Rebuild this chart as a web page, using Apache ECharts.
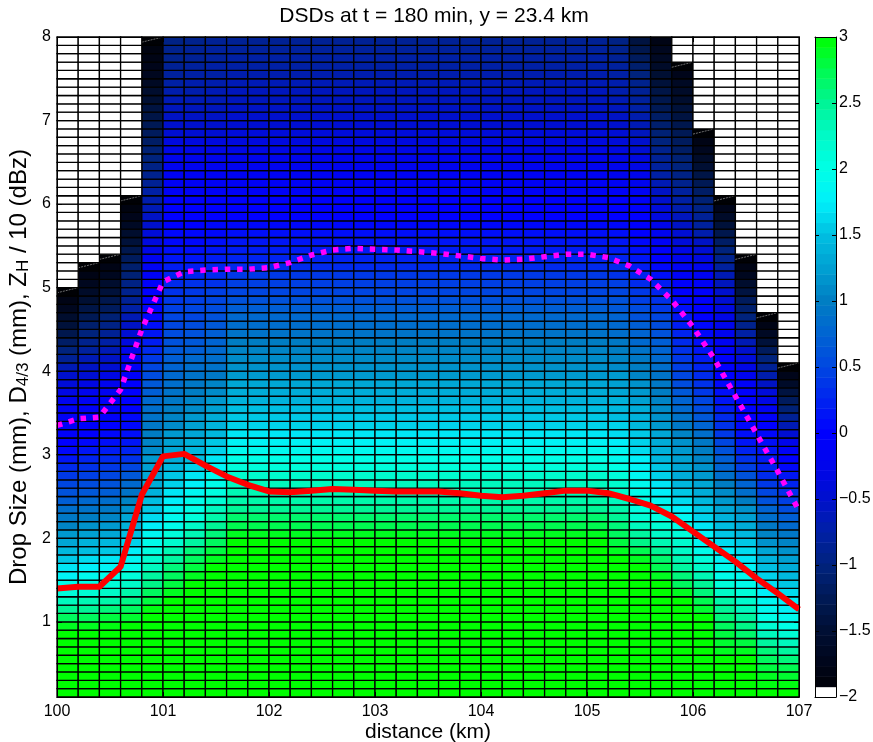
<!DOCTYPE html>
<html>
<head>
<meta charset="utf-8">
<script src="https://cdn.jsdelivr.net/npm/echarts@6/dist/echarts.min.js"></script>
<style>
html, body { margin: 0; padding: 0; background: #fff; }
#chart { width: 873px; height: 742px; }
</style>
</head>
<body>
<div id="chart"></div>
<script>
const FONT = '"Liberation Sans", Arial, Helvetica, sans-serif';

// Left edge of every 0.2 km distance column (km)
const columnStarts = [100.0, 100.2, 100.4, 100.6, 100.8, 101.0, 101.2, 101.4, 101.6, 101.8,
  102.0, 102.2, 102.4, 102.6, 102.8, 103.0, 103.2, 103.4, 103.6, 103.8,
  104.0, 104.2, 104.4, 104.6, 104.8, 105.0, 105.2, 105.4, 105.6, 105.8,
  106.0, 106.2, 106.4, 106.6, 106.8];

// Drop size bins: 0.1 mm wide, lowest bin starts at 0.1 mm, plot top at 8 mm
const binWidthKm = 0.2;
const binHeightMm = 0.1;
const firstBinMm = 0.1;
const topMm = 8.0;

// Log number concentration per drop-size bin, listed from the smallest bin upward.
// A column ends at its largest observed drop size; bins above it are empty.
const dsd100_0 = [3,3,3,3,3,3,3,3, 2.9,2.7,2.5,2.3,2.1,1.95,1.8,1.7,1.55,1.45, 1.3,1.2,1.05,0.95,0.85,0.7,0.6,0.5,0.4,0.3, 0.15,0.05,0,-0.05,-0.1,-0.1,-0.15,-0.2,-0.3,-0.4, -0.5,-0.65,-0.85,-1.0,-1.15,-1.3,-1.45,-1.55,-1.7,-1.8,-1.95];
const dsd100_2 = [3,3,3,3,3,3,3,3, 2.9,2.7,2.5,2.35,2.15,2.0,1.9,1.75,1.65,1.5, 1.4,1.25,1.15,1.0,0.9,0.8,0.65,0.55,0.45,0.35, 0.25,0.15,0.05,0,-0.05,-0.1,-0.1,-0.15,-0.2,-0.3, -0.45,-0.55,-0.65,-0.8,-0.9,-1.0,-1.1,-1.25,-1.35,-1.5, -1.6,-1.7,-1.8,-1.95];
const dsd100_4 = [3,3,3,3,3,3,3,3, 2.95,2.8,2.6,2.4,2.25,2.1,1.95,1.8,1.7,1.55, 1.45,1.3,1.2,1.05,0.95,0.85,0.7,0.6,0.5,0.4, 0.3,0.2,0.1,0.05,0,-0.05,-0.1,-0.1,-0.15,-0.2, -0.3,-0.45,-0.55,-0.65,-0.75,-0.85,-0.95,-1.05,-1.2,-1.3, -1.45,-1.55,-1.7,-1.8,-1.95];
const dsd100_6 = [3,3,3,3,3,3,3,3,3, 2.85,2.7,2.55,2.4,2.25,2.1,1.95,1.85,1.75,1.6, 1.5,1.4,1.3,1.15,1.05,0.9,0.8,0.65,0.5,0.35, 0.25,0.15,0.1,0.05,0.05,0,0,0,0,-0.05, -0.1,-0.2,-0.25,-0.35,-0.45,-0.55,-0.65,-0.75,-0.85,-0.9, -0.95,-1.05,-1.1,-1.2,-1.3,-1.45,-1.55,-1.65,-1.75,-1.85, -1.95];
const dsd100_8 = [3,3,3,3,3,3,3,3,3,3, 2.95,2.8,2.7,2.55,2.45,2.3,2.2,2.05,1.95,1.85, 1.75,1.65,1.55,1.5,1.4,1.35,1.3,1.25,1.2,1.1, 1.05,1.0,0.95,0.9,0.85,0.8,0.7,0.65,0.55,0.5, 0.4,0.3,0.2,0.15,0.1,0.05,0.05,0,0,-0.05, -0.1,-0.15,-0.2,-0.3,-0.35,-0.4,-0.5,-0.55,-0.65,-0.7, -0.75,-0.85,-0.9,-0.95,-1.0,-1.05,-1.15,-1.2,-1.25,-1.35, -1.4,-1.5,-1.55,-1.65,-1.7,-1.75,-1.8,-1.85,-1.95];
const dsd101_0 = [3,3,3,3,3,3,3,3,3,3,3,3, 2.9,2.8,2.7,2.6,2.45,2.35,2.2,2.1,1.95,1.9, 1.85,1.75,1.7,1.6,1.55,1.45,1.35,1.3,1.25,1.2, 1.1,1.05,1.0,0.95,0.9,0.85,0.8,0.75,0.7,0.65, 0.6,0.55,0.5,0.5,0.45,0.4,0.35,0.3,0.25,0.2, 0.15,0.1,0.05,0.05,0,0,0,-0.05,-0.1,-0.1, -0.15,-0.2,-0.25,-0.3,-0.35,-0.45,-0.5,-0.55,-0.6,-0.65, -0.7,-0.75,-0.8,-0.85,-0.9,-0.9,-0.95];
const dsd101_2 = [3,3,3,3,3,3,3,3,3,3,3,3,3,3, 2.9,2.8,2.7,2.6,2.45,2.35,2.25,2.1,2.0,1.95, 1.85,1.75,1.7,1.6,1.5,1.45,1.4,1.3,1.25,1.2, 1.1,1.05,1.0,0.95,0.9,0.85,0.8,0.7,0.65,0.6, 0.55,0.5,0.5,0.45,0.4,0.35,0.25,0.2,0.15,0.1, 0.05,0.05,0,0,0, -0.05,-0.1,-0.1,-0.15,-0.2,-0.25,-0.3,-0.35,-0.45,-0.5, -0.55,-0.6,-0.65,-0.7,-0.7,-0.75,-0.8,-0.85,-0.85,-0.9];
const dsd101_4 = [3,3,3,3,3,3,3,3,3,3,3,3,3,3,3,3, 2.9,2.8,2.7,2.6,2.5,2.4,2.3,2.15,2.05,1.95, 1.9,1.8,1.7,1.6,1.55,1.45,1.4,1.35,1.25,1.2, 1.1,1.05,0.95,0.9,0.85,0.8,0.75,0.7,0.65,0.6, 0.55,0.5,0.45,0.35,0.3,0.25,0.2,0.15,0.1,0.05, 0.05,0,0, -0.05,-0.1,-0.1,-0.15,-0.2,-0.25,-0.3,-0.35,-0.45,-0.5, -0.55,-0.6,-0.65,-0.65,-0.7,-0.75,-0.75,-0.8,-0.8,-0.85];
const dsdCore = [3,3,3,3,3,3,3,3,3,3,3,3,3,3,3,3,3,3,3, 2.9,2.75,2.65,2.5,2.4,2.35,2.3,2.2,2.1,2.0, 1.9,1.8,1.7,1.6,1.55,1.5,1.4,1.35,1.3,1.2, 1.15,1.1,1.05,1.0,0.9,0.85,0.8,0.7,0.6,0.5, 0.45,0.4,0.3,0.25,0.2,0.15,0.1,0.05,0,0, -0.05,-0.1,-0.1,-0.15,-0.2,-0.25,-0.3,-0.35,-0.4,-0.45, -0.5,-0.55,-0.6,-0.6,-0.65,-0.7,-0.75,-0.75,-0.8,-0.85];
const dsd105_2 = [3,3,3,3,3,3,3,3,3,3,3,3,3,3,3,3,3, 2.9,2.8,2.7,2.6,2.5,2.4,2.3,2.25,2.2,2.1, 2.0,1.9,1.85,1.75,1.65,1.6,1.5,1.45,1.4,1.3, 1.25,1.2,1.1,1.05,1.0,0.95,0.85,0.8,0.75,0.65, 0.6,0.5,0.45,0.35,0.3,0.25,0.2,0.15,0.1,0.05, 0,0, -0.05,-0.1,-0.15,-0.2,-0.25,-0.3,-0.35,-0.4,-0.45,-0.5, -0.55,-0.6,-0.65,-0.7,-0.7,-0.75,-0.8,-0.85,-0.9,-0.95];
const dsd105_4 = [3,3,3,3,3,3,3,3,3,3,3,3,3,3,3,3, 2.9,2.75,2.55,2.45,2.3,2.15,2.05,2.0,1.95,1.9, 1.85,1.8,1.75,1.65,1.6,1.55,1.45,1.4,1.35,1.25, 1.2,1.15,1.05,1.0,0.95,0.9,0.8,0.75,0.7,0.6, 0.55,0.45,0.4,0.3,0.25,0.2,0.15,0.1,0.05,0, 0,0,-0.05,-0.1,-0.15,-0.2,-0.25,-0.3,-0.35,-0.45, -0.5,-0.6,-0.65,-0.7,-0.75,-0.8,-0.85,-0.9,-1.0,-1.1, -1.2,-1.3,-1.4];
const dsd105_6 = [3,3,3,3,3,3,3,3,3,3,3,3,3,3, 2.9,2.75,2.65,2.5,2.35,2.25,2.15,2.05,1.95,1.85, 1.75,1.7,1.6,1.55,1.45,1.4,1.35,1.3,1.2,1.15, 1.1,1.05,1.0,0.95,0.9,0.85,0.8,0.75,0.7,0.6, 0.55,0.5,0.4,0.35,0.25,0.2,0.1,0.05,0,-0.05, -0.1,-0.2,-0.25,-0.35,-0.4,-0.5,-0.55,-0.65,-0.75,-0.8, -0.85,-0.9,-1.0,-1.05,-1.1,-1.15,-1.25,-1.3,-1.35,-1.45, -1.5,-1.6,-1.65,-1.7,-1.8];
const dsd105_8 = [3,3,3,3,3,3,3,3,3,3,3,3, 2.9,2.7,2.6,2.45,2.35,2.25,2.2,2.1,1.95,1.85, 1.75,1.65,1.55,1.45,1.35,1.3,1.25,1.2,1.15,1.05, 0.95,0.9,0.8,0.75,0.65,0.55,0.5,0.45,0.4,0.35, 0.3,0.25,0.2,0.15,0.1,0.05,0,-0.05,-0.1,-0.15, -0.25,-0.3,-0.4,-0.45,-0.55,-0.6,-0.7,-0.75,-0.8,-0.9, -0.95,-1.0,-1.05,-1.15,-1.2,-1.25,-1.3,-1.4,-1.45,-1.55, -1.6,-1.65,-1.75,-1.95];
const dsd106_0 = [3,3,3,3,3,3,3,3,3,3, 2.85,2.75,2.6,2.5,2.35,2.25,2.1,1.95,1.85,1.8, 1.7,1.6,1.55,1.45,1.35,1.3,1.2,1.15,1.05,1.0, 0.95,0.85,0.75,0.65,0.55,0.5,0.4,0.35,0.3,0.25, 0.2,0.15,0.1,0.05,0.05,0,0,-0.05,-0.05,-0.1, -0.15,-0.25,-0.35,-0.45,-0.55,-0.7,-0.8,-0.85,-0.95,-1.05, -1.15,-1.25,-1.35,-1.5,-1.6,-1.7,-1.8,-1.95];
const dsd106_2 = [3,3,3,3,3, 2.9,2.85,2.8,2.7,2.6,2.5,2.4,2.25,2.1,1.95, 1.9,1.8,1.75,1.65,1.55,1.5,1.4,1.3,1.2,1.1, 1.0,0.85,0.75,0.7,0.6,0.5,0.4,0.35,0.3,0.2, 0.15,0.1,0.05,0,0,-0.05,-0.1,-0.15,-0.2,-0.25, -0.3,-0.35,-0.45,-0.5,-0.6,-0.65,-0.8,-0.9,-1.0,-1.15, -1.3,-1.45,-1.6,-1.75,-1.95];
const dsd106_4 = [3,3,3,3,3,2.9,2.8,2.65,2.55,2.45, 2.3,2.2,2.1,1.95,1.9,1.8,1.7,1.65,1.55,1.45, 1.35,1.25,1.15,1.0,0.85,0.75,0.6,0.45,0.35,0.25, 0.15,0.1,0.05,0,0,0,-0.05,-0.1,-0.2,-0.3, -0.4,-0.5,-0.65,-0.75,-0.9,-1.0,-1.1,-1.2,-1.4,-1.55, -1.7,-1.8,-1.95];
const dsd106_6 = [3,2.95,2.9,2.8,2.7,2.6,2.45,2.3,2.15,2.0, 1.9,1.85,1.75,1.65,1.6,1.5,1.4,1.3,1.15,1.05, 0.95,0.85,0.75,0.6,0.5,0.4,0.3,0.25,0.2,0.15, 0.1,0.05,0,-0.05,-0.15,-0.3,-0.4,-0.55,-0.7,-0.85, -1.0,-1.2,-1.45,-1.65,-1.8,-1.95];
const dsd106_8 = [3,2.95,2.85,2.75,2.6,2.45,2.3,2.15,2.0,1.9, 1.8,1.75,1.65,1.55,1.45,1.35,1.25,1.15,1.05,0.95, 0.8,0.7,0.55,0.45,0.35,0.25,0.15,0.05,0,-0.1, -0.25,-0.45,-0.65,-0.85,-1.05,-1.2,-1.4,-1.6,-1.75,-1.95];

// One profile per column, in columnStarts order
const columnProfiles = [dsd100_0, dsd100_2, dsd100_4, dsd100_6, dsd100_8, dsd101_0, dsd101_2, dsd101_4,
  dsdCore, dsdCore, dsdCore, dsdCore, dsdCore, dsdCore, dsdCore, dsdCore, dsdCore,
  dsdCore, dsdCore, dsdCore, dsdCore, dsdCore, dsdCore, dsdCore, dsdCore, dsdCore,
  dsd105_2, dsd105_4, dsd105_6, dsd105_8, dsd106_0, dsd106_2, dsd106_4, dsd106_6, dsd106_8];

// Line profiles along distance
const lineDistance = [100.0, 100.2, 100.4, 100.6, 100.8, 101.0, 101.2, 101.4, 101.6, 101.8,
  102.0, 102.2, 102.4, 102.6, 102.8, 103.0, 103.2, 103.4, 103.6, 103.8,
  104.0, 104.2, 104.4, 104.6, 104.8, 105.0, 105.2, 105.4, 105.6, 105.8,
  106.0, 106.2, 106.4, 106.6, 106.8, 107.0];
const d43 = [1.40, 1.42, 1.42, 1.66, 2.52, 2.98, 3.01, 2.87, 2.74, 2.64,
  2.56, 2.55, 2.57, 2.59, 2.58, 2.57, 2.56, 2.56, 2.56, 2.54,
  2.51, 2.49, 2.51, 2.54, 2.57, 2.57, 2.54, 2.47, 2.39, 2.26,
  2.08, 1.90, 1.72, 1.52, 1.34, 1.15];
const zhOver10 = [3.35, 3.43, 3.45, 3.78, 4.50, 5.07, 5.19, 5.21, 5.22, 5.22,
  5.24, 5.30, 5.39, 5.45, 5.47, 5.46, 5.45, 5.43, 5.41, 5.38,
  5.35, 5.33, 5.34, 5.37, 5.40, 5.40, 5.36, 5.26, 5.10, 4.85,
  4.53, 4.15, 3.70, 3.25, 2.80, 2.33];

// Axis ticks
const xTicks = [100, 101, 102, 103, 104, 105, 106, 107];
const yTicks = [1, 2, 3, 4, 5, 6, 7, 8];

// Colour scale from -2 to 3 in 0.25 steps: black -> navy -> blue -> cyan -> green
const colorStops = ['#000000', '#00051a', '#000f33', '#001955', '#00237d', '#0020a5', '#0010cd', '#0005eb',
  '#0000ff', '#0023f0', '#0046e1', '#0064d2', '#007dc3', '#00a0d2', '#00bee1', '#00f0fa',
  '#00ffe6', '#00fac8', '#00f596', '#00fa50', '#00ff00'];
const colorMin = -2, colorMax = 3, colorBands = 64;

// Build cell lists
const filledCells = [];
const emptyCells = [];
const rowsPerColumn = Math.round((topMm - firstBinMm) / binHeightMm);
columnProfiles.forEach(function (profile, i) {
  const x0 = columnStarts[i];
  for (let j = 0; j < rowsPerColumn; j++) {
    const y0 = +(firstBinMm + j * binHeightMm).toFixed(2);
    if (j < profile.length) filledCells.push([x0, y0, profile[j]]);
    else emptyCells.push([x0, y0]);
  }
});

// Colour bar bands
const bandData = [];
for (let k = 0; k < colorBands; k++) {
  const lo = colorMin + k * (colorMax - colorMin) / colorBands;
  const hi = colorMin + (k + 1) * (colorMax - colorMin) / colorBands;
  bandData.push([0, lo, (lo + hi) / 2, hi, k]);
}

function cellRect(api) {
  const x0 = api.value(0), y0 = api.value(1);
  const p0 = api.coord([x0, y0 + binHeightMm]);
  const p1 = api.coord([x0 + binWidthKm, y0]);
  return { x: p0[0], y: p0[1], width: p1[0] - p0[0], height: p1[1] - p0[1] };
}

function renderFilled(params, api) {
  const shape = cellRect(api);
  const rect = {
    type: 'rect', shape: shape,
    style: { fill: api.visual('color'), stroke: '#000', lineWidth: 1.3 }
  };
  if (api.value(2) <= -1.95) {
    return {
      type: 'group',
      children: [rect, {
        type: 'line',
        shape: { x1: shape.x, y1: shape.y + 0.62 * shape.height, x2: shape.x + shape.width, y2: shape.y },
        style: { stroke: '#8a8a8a', lineWidth: 0.8, lineDash: [2, 1] }
      }]
    };
  }
  return rect;
}

function renderEmpty(params, api) {
  return {
    type: 'rect', shape: cellRect(api),
    style: { fill: '#fff', stroke: '#000', lineWidth: 1.3 }
  };
}

function renderBand(params, api) {
  const p0 = api.coord([0, api.value(3)]);
  const p1 = api.coord([1, api.value(1)]);
  const isFirst = api.value(4) === 0;
  return {
    type: 'rect',
    shape: { x: p0[0], y: p0[1], width: p1[0] - p0[0], height: p1[1] - p0[1] + 0.5 },
    style: { fill: isFirst ? '#fff' : api.visual('color') }
  };
}

const tickLabel = { color: '#000', fontFamily: FONT, fontSize: 16 };
const axisLine = { show: true, onZero: false, lineStyle: { color: '#000', width: 1 } };

const chart = echarts.init(document.getElementById('chart'), null, { renderer: 'canvas' });
chart.setOption({
  animation: false,
  backgroundColor: '#fff',
  title: {
    text: 'DSDs at t = 180 min, y = 23.4 km',
    left: 429, top: 1, textAlign: 'center',
    textStyle: { fontFamily: FONT, fontSize: 21, fontWeight: 'normal', color: '#000' }
  },
  grid: [
    { left: 57, right: 74, top: 37, bottom: 45, outerBoundsMode: 'none', containLabel: false },
    { left: 815, width: 21, top: 37, bottom: 45, outerBoundsMode: 'none', containLabel: false }
  ],
  xAxis: [
    {
      gridIndex: 0, type: 'value', min: 100, max: 107, interval: 1, position: 'bottom', z: 10,
      axisLine: axisLine,
      axisTick: { show: true, inside: true, length: 5, lineStyle: { color: '#000' } },
      axisLabel: Object.assign({ margin: 7, customValues: xTicks }, tickLabel),
      splitLine: { show: false },
      name: 'distance (km)', nameLocation: 'middle', nameGap: 25, nameMoveOverlap: false,
      nameTextStyle: { fontFamily: FONT, fontSize: 21, color: '#000' }
    },
    {
      gridIndex: 0, type: 'value', min: 100, max: 107, interval: 1, position: 'top', z: 10,
      axisLine: axisLine,
      axisTick: { show: true, inside: true, length: 5, lineStyle: { color: '#000' } },
      axisLabel: { show: false }, splitLine: { show: false }
    },
    {
      gridIndex: 1, type: 'value', min: 0, max: 1, position: 'bottom', z: 10,
      axisLine: axisLine, axisTick: { show: false }, axisLabel: { show: false }, splitLine: { show: false }
    },
    {
      gridIndex: 1, type: 'value', min: 0, max: 1, position: 'top', z: 10,
      axisLine: axisLine, axisTick: { show: false }, axisLabel: { show: false }, splitLine: { show: false }
    }
  ],
  yAxis: [
    {
      gridIndex: 0, type: 'value', min: firstBinMm, max: topMm, position: 'left', z: 10,
      axisLine: axisLine,
      axisTick: { show: true, inside: true, length: 5, customValues: yTicks, lineStyle: { color: '#000' } },
      axisLabel: Object.assign({ margin: 6, customValues: yTicks }, tickLabel),
      splitLine: { show: false },
      name: '{t|Drop Size (mm), D}{s|4/3}{t| (mm), Z}{s|H}{t| / 10 (dBz)}',
      nameLocation: 'middle', nameRotate: 90, nameGap: 25, nameMoveOverlap: false,
      nameTextStyle: {
        color: '#000',
        rich: {
          t: { fontFamily: FONT, fontSize: 24, color: '#000', lineHeight: 26, verticalAlign: 'middle' },
          s: { fontFamily: FONT, fontSize: 17, color: '#000', lineHeight: 17, verticalAlign: 'bottom' }
        }
      }
    },
    {
      gridIndex: 0, type: 'value', min: firstBinMm, max: topMm, position: 'right', z: 10,
      axisLine: axisLine,
      axisTick: { show: true, inside: true, length: 5, customValues: yTicks, lineStyle: { color: '#000' } },
      axisLabel: { show: false }, splitLine: { show: false }
    },
    {
      gridIndex: 1, type: 'value', min: colorMin, max: colorMax, interval: 0.5, position: 'right', z: 10,
      axisLine: axisLine,
      axisTick: { show: true, inside: true, length: 4, lineStyle: { color: '#000' } },
      axisLabel: Object.assign({ margin: 3, formatter: function (v) { return String(v).replace('-', '\u2212'); } }, tickLabel),
      splitLine: { show: false }
    },
    {
      gridIndex: 1, type: 'value', min: colorMin, max: colorMax, interval: 0.5, position: 'left', z: 10,
      axisLine: axisLine,
      axisTick: { show: true, inside: true, length: 4, lineStyle: { color: '#000' } },
      axisLabel: { show: false }, splitLine: { show: false }
    }
  ],
  visualMap: {
    type: 'continuous', show: false, min: colorMin, max: colorMax, dimension: 2,
    seriesIndex: [0, 2], inRange: { color: colorStops }
  },
  series: [
    {
      name: 'dsd', type: 'custom', xAxisIndex: 0, yAxisIndex: 0, silent: true, z: 2,
      renderItem: renderFilled, encode: { x: 0, y: 1 }, data: filledCells
    },
    {
      name: 'no drops', type: 'custom', xAxisIndex: 0, yAxisIndex: 0, silent: true, z: 2,
      renderItem: renderEmpty, encode: { x: 0, y: 1 }, data: emptyCells
    },
    {
      name: 'colour bar', type: 'custom', xAxisIndex: 2, yAxisIndex: 2, silent: true, z: 2,
      renderItem: renderBand, encode: { x: 0, y: 1 }, data: bandData
    },
    {
      name: 'ZH / 10', type: 'line', xAxisIndex: 0, yAxisIndex: 0, silent: true, z: 5,
      symbol: 'none', showSymbol: false,
      lineStyle: { color: '#ff00ff', width: 5.5, type: [5.5, 6.8], cap: 'butt' },
      data: lineDistance.map(function (x, i) { return [x, zhOver10[i]]; })
    },
    {
      name: 'D4/3', type: 'line', xAxisIndex: 0, yAxisIndex: 0, silent: true, z: 6,
      symbol: 'none', showSymbol: false,
      lineStyle: { color: '#ff0000', width: 6, join: 'round' },
      data: lineDistance.map(function (x, i) { return [x, d43[i]]; })
    }
  ]
});
</script>
</body>
</html>
